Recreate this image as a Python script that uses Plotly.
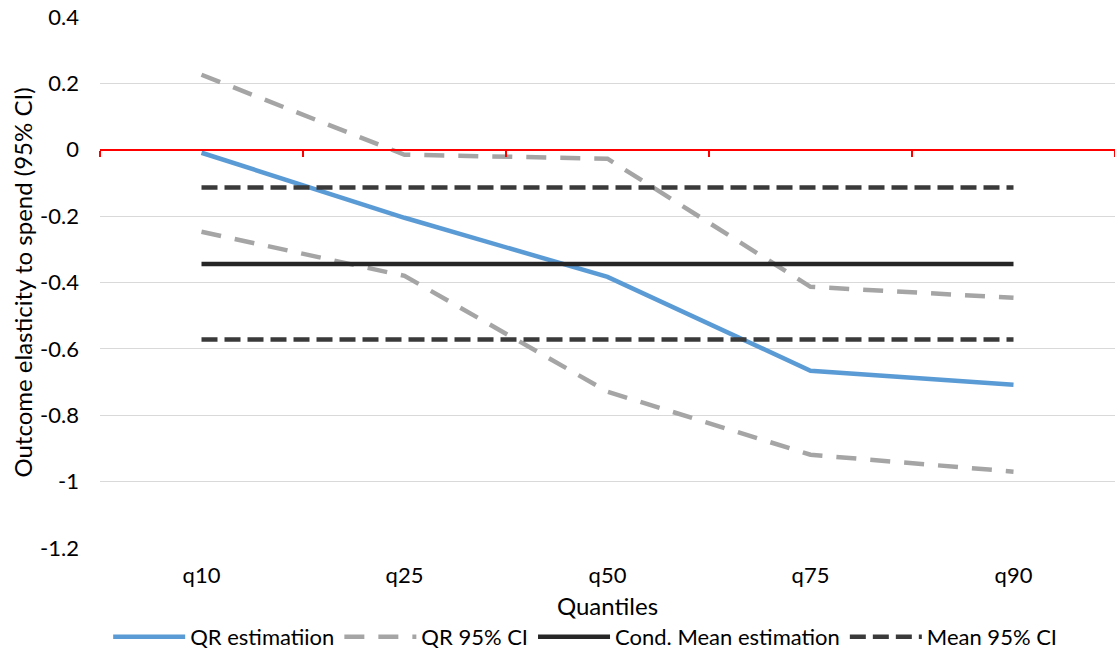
import plotly.graph_objects as go

quantiles = ["q10", "q25", "q50", "q75", "q90"]
qr_est = [-0.009, -0.205, -0.383, -0.666, -0.708]
qr_ci_upper = [0.226, -0.015, -0.027, -0.413, -0.446]
qr_ci_lower = [-0.247, -0.380, -0.729, -0.919, -0.970]
mean_est = [-0.344, -0.344, -0.344, -0.344, -0.344]
mean_ci_upper = [-0.114, -0.114, -0.114, -0.114, -0.114]
mean_ci_lower = [-0.572, -0.572, -0.572, -0.572, -0.572]
y_ticks = [0.4, 0.2, 0, -0.2, -0.4, -0.6, -0.8, -1, -1.2]
y_ticktext = ["0.4", "0.2", "0", "-0.2", "-0.4", "-0.6", "-0.8", "-1", "-1.2"]

FONT = "Lato"
FS = 22
FT = 24
fig = go.Figure()

fig.add_trace(go.Scatter(x=quantiles, y=qr_est, mode="lines", name="QR estimatiion",
                         line=dict(color="#5B9BD5", width=4.5)))
fig.add_trace(go.Scatter(x=quantiles, y=qr_ci_upper, mode="lines", name="QR 95% CI",
                         legendgroup="qrci",
                         line=dict(color="#A5A5A5", width=4.5, dash="20px,14px")))
fig.add_trace(go.Scatter(x=quantiles, y=qr_ci_lower, mode="lines", name="QR 95% CI",
                         legendgroup="qrci", showlegend=False,
                         line=dict(color="#A5A5A5", width=4.5, dash="20px,14px")))
fig.add_trace(go.Scatter(x=quantiles, y=mean_est, mode="lines", name="Cond. Mean estimation",
                         line=dict(color="#262626", width=4.5)))
fig.add_trace(go.Scatter(x=quantiles, y=mean_ci_upper, mode="lines", name="Mean 95% CI",
                         legendgroup="mci",
                         line=dict(color="#3A3A3A", width=4.5, dash="16px,7px")))
fig.add_trace(go.Scatter(x=quantiles, y=mean_ci_lower, mode="lines", name="Mean 95% CI",
                         legendgroup="mci", showlegend=False,
                         line=dict(color="#3A3A3A", width=4.5, dash="16px,7px")))
# invisible trace to anchor the red zero axis
fig.add_trace(go.Scatter(x=quantiles, y=[None] * len(quantiles), xaxis="x2", mode="lines",
                         showlegend=False, hoverinfo="skip"))

fig.update_layout(
    width=1115, height=658,
    margin=dict(l=100, r=0, t=17, b=110),
    paper_bgcolor="white", plot_bgcolor="white",
    font=dict(family=FONT, size=FS, color="#000000"),
    showlegend=True,
    legend=dict(orientation="h", x=0.478, xanchor="center", y=-0.168, yanchor="middle",
                font=dict(family=FONT, size=FS, color="#000000"),
                itemwidth=72, tracegroupgap=0),
    xaxis=dict(type="category", categoryorder="array", categoryarray=quantiles,
               range=[-0.5, 4.5], showgrid=False, showline=False, ticks="",
               zeroline=False, ticklabelstandoff=12,
               tickfont=dict(family=FONT, size=FS),
               title=dict(text="Quantiles", standoff=11, font=dict(family=FONT, size=FT))),
    xaxis2=dict(type="category", categoryorder="array", categoryarray=quantiles,
                range=[-0.5, 4.5], overlaying="x", anchor="free", position=0.75,
                side="bottom", showline=True, linecolor="#FF0000", linewidth=2,
                ticks="outside", tickson="boundaries", tickcolor="#FF0000",
                ticklen=6, tickwidth=2, showticklabels=False, showgrid=False,
                zeroline=False),
    yaxis=dict(range=[-1.2, 0.4], tickvals=y_ticks, ticktext=y_ticktext,
               showgrid=True, gridcolor="#D9D9D9", gridwidth=1,
               zeroline=False, showline=False, ticks="", ticklabelstandoff=20,
               tickfont=dict(family=FONT, size=FS),
               title=dict(text="Outcome elasticity to spend (95% CI)", standoff=0,
                          font=dict(family=FONT, size=FT))),
)

fig.write_html("out.html")
